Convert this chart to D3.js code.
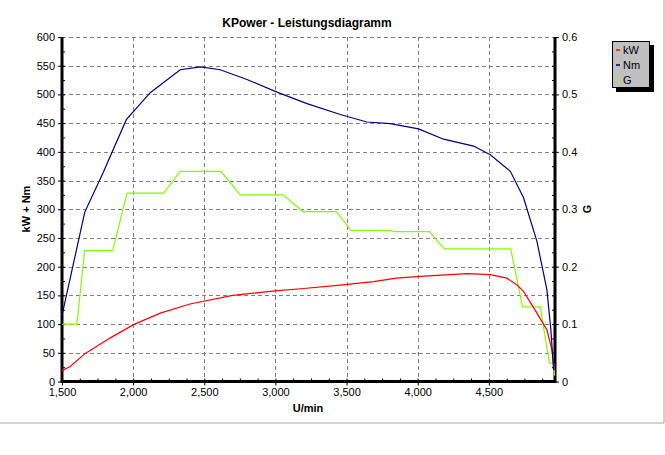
<!DOCTYPE html>
<html><head><meta charset="utf-8">
<script src="https://cdn.jsdelivr.net/npm/d3@7/dist/d3.min.js"></script>
<style>body{margin:0;background:#fff}svg{font-family:"Liberation Sans",Arial,sans-serif}</style>
</head><body><svg id="c" width="665" height="455"></svg>
<script>
const rpmTicks=[1500,2000,2500,3000,3500,4000,4500];
const leftTicks=[0,50,100,150,200,250,300,350,400,450,500,550,600];
const rightTicks=[0,0.1,0.2,0.3,0.4,0.5,0.6];
const kW=[[1500,19],[1558,26],[1664,49],[1840,76],[2003,99],[2191,119],[2400,135],[2700,150],[3000,158],[3200,162],[3456,168],[3690,174],[3850,180],[4018,183],[4346,188],[4510,186],[4627,180],[4698,168],[4744,157],[4838,119],[4908,90],[4943,55],[4960,20]];
const Nm=[[1500,115],[1660,295],[1788,363],[1952,456],[2120,503],[2331,543],[2472,548],[2612,543],[2800,526],[3011,504],[3222,484],[3456,465],[3643,452],[3807,449],[4006,440],[4182,422],[4393,410],[4510,395],[4651,366],[4744,320],[4838,244],[4908,160],[4936,90],[4955,20]];
const G=[[1500,0.100],[1605,0.100],[1659,0.228],[1856,0.228],[1957,0.328],[2214,0.328],[2331,0.366],[2617,0.366],[2753,0.325],[3053,0.325],[3194,0.296],[3428,0.296],[3531,0.263],[3819,0.263],[3830,0.261],[4083,0.261],[4187,0.231],[4654,0.231],[4737,0.130],[4861,0.130],[4926,0.032],[4955,0.032],[4962,0.010]];
const svg=d3.select("#c");
const x=d3.scaleLinear().domain([1500,4965]).range([62,555]);
const y=d3.scaleLinear().domain([0,600]).range([381.5,37]);
const y2=d3.scaleLinear().domain([0,0.6]).range([381.5,37]);
// frame
svg.append("line").attr("x1",0).attr("x2",664).attr("y1",423).attr("y2",423).attr("stroke","#a8a498");
svg.append("line").attr("x1",664).attr("x2",664).attr("y1",0).attr("y2",423).attr("stroke","#a8a498");
// grid
const g=svg.append("g").attr("stroke","#808080").attr("stroke-dasharray","4,3");
leftTicks.slice(1).forEach(v=>g.append("line").attr("x1",62).attr("x2",555).attr("y1",Math.round(y(v))+.5).attr("y2",Math.round(y(v))+.5));
rpmTicks.slice(1).forEach(v=>g.append("line").attr("y1",37).attr("y2",381).attr("x1",Math.round(x(v))+.5).attr("x2",Math.round(x(v))+.5));
// axes
const ax=svg.append("g").attr("font-size",11);
const bx=ax.append("g").attr("transform","translate(0,381.5)").call(d3.axisBottom(x).tickValues(rpmTicks).tickFormat(d3.format(",")).tickSize(4));
const bm=ax.append("g").attr("transform","translate(0,381.5)").call(d3.axisTop(x).tickValues(d3.range(1625,4965,125)).tickFormat("").tickSize(3));
const la=ax.append("g").attr("transform","translate(62,0)").call(d3.axisLeft(y).tickValues(leftTicks).tickSize(4));
const lm=ax.append("g").attr("transform","translate(62,0)").call(d3.axisRight(y).tickValues(d3.range(25,600,25)).tickFormat("").tickSize(3));
const ra=ax.append("g").attr("transform","translate(555,0)").call(d3.axisRight(y2).tickValues(rightTicks).tickFormat(d=>d===0?"0":String(d)).tickSize(4));
const rm=ax.append("g").attr("transform","translate(555,0)").call(d3.axisLeft(y2).tickValues(d3.range(0.025,0.6,0.025)).tickFormat("").tickSize(3));
ax.selectAll(".domain").remove();
ax.selectAll("text").attr("fill","#000").attr("font-family","Liberation Sans,Arial,sans-serif").attr("font-size",11);
ax.selectAll("line").attr("stroke","#000");
svg.append("line").attr("x1",62).attr("x2",62).attr("y1",37).attr("y2",383).attr("stroke","#000").attr("stroke-width",3);
svg.append("line").attr("x1",555).attr("x2",555).attr("y1",37).attr("y2",383).attr("stroke","#000").attr("stroke-width",3);
svg.append("line").attr("x1",61).attr("x2",556).attr("y1",381.5).attr("y2",381.5).attr("stroke","#000").attr("stroke-width",3);
// lines
const ln=d3.line().x(d=>x(d[0])).y(d=>y(d[1]));
const ln2=d3.line().x(d=>x(d[0])).y(d=>y2(d[1]));
svg.append("path").attr("d",ln2(G)).attr("fill","none").attr("stroke","#80ff00").attr("stroke-width",1.2);
svg.append("path").attr("d",ln(kW)).attr("fill","none").attr("stroke","#ff0000").attr("stroke-width",1.2);
svg.append("path").attr("d",ln(Nm)).attr("fill","none").attr("stroke","#000080").attr("stroke-width",1.2);
// titles
svg.append("text").attr("x",307).attr("y",27).attr("text-anchor","middle").attr("font-size",12).attr("font-weight","bold").text("KPower - Leistungsdiagramm");
svg.append("text").attr("x",308).attr("y",412).attr("text-anchor","middle").attr("font-size",11).attr("font-weight","bold").text("U/min");
svg.append("text").attr("transform","translate(30,209) rotate(-90)").attr("text-anchor","middle").attr("font-size",11).attr("font-weight","bold").text("kW + Nm");
svg.append("text").attr("transform","translate(591,209) rotate(-90)").attr("text-anchor","middle").attr("font-size",11).attr("font-weight","bold").text("G");
// legend
const lg=svg.append("g");
lg.append("rect").attr("x",616).attr("y",45).attr("width",38).attr("height",47).attr("fill","#000");
lg.append("rect").attr("x",612.5).attr("y",41.5).attr("width",37).attr("height",46).attr("fill","#c0c0c0").attr("stroke","#000");
const names=["kW","Nm","G"],cols=["#ff0000","#000080","#80ff00"];
names.forEach((n,i)=>{const yy=50+i*15;
 lg.append("line").attr("x1",616).attr("x2",620).attr("y1",yy).attr("y2",yy).attr("stroke",cols[i]).attr("stroke-width",1.5);
 lg.append("text").attr("x",623).attr("y",yy+4).attr("font-size",11).text(n);});
</script></body></html>
